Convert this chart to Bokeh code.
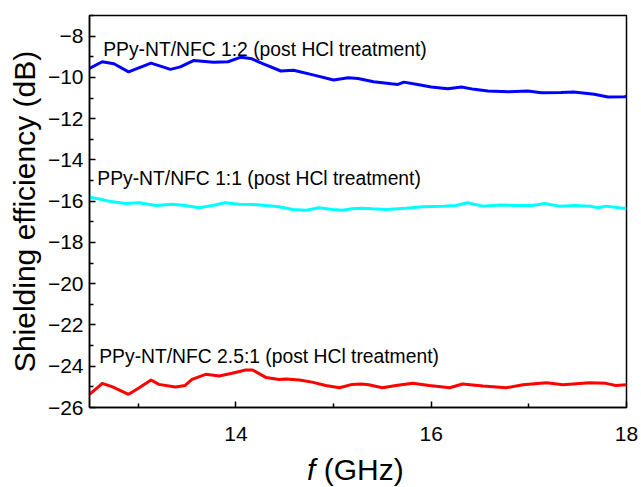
from bokeh.plotting import figure
from bokeh.models import FixedTicker, Label, Div
from bokeh.layouts import column
from bokeh.embed import file_html
from bokeh.resources import INLINE

# ---- data ----
blue_x = [12.5, 12.63, 12.75, 12.90, 13.13, 13.33, 13.43, 13.57, 13.77, 13.92, 14.05, 14.15,
          14.28, 14.46, 14.59, 14.80, 15.00, 15.15, 15.25, 15.41, 15.59, 15.66, 15.72, 15.86,
          16.00, 16.17, 16.31, 16.44, 16.58, 16.79, 16.99, 17.13, 17.33, 17.46, 17.67, 17.81,
          17.98, 18.0]
blue_y = [-9.56, -9.24, -9.34, -9.73, -9.31, -9.61, -9.49, -9.18, -9.27, -9.24, -9.02, -9.08,
          -9.34, -9.69, -9.65, -9.89, -10.13, -10.02, -10.05, -10.21, -10.31, -10.34, -10.23, -10.34,
          -10.47, -10.55, -10.47, -10.58, -10.66, -10.70, -10.66, -10.74, -10.73, -10.71, -10.82, -10.95,
          -10.94, -10.92]

cyan_x = [12.5, 12.60, 12.70, 12.87, 13.01, 13.18, 13.35, 13.48, 13.62, 13.76, 13.89, 14.03,
          14.17, 14.31, 14.44, 14.58, 14.72, 14.85, 14.99, 15.09, 15.19, 15.28, 15.40, 15.54,
          15.74, 15.91, 16.12, 16.25, 16.37, 16.53, 16.70, 16.87, 17.04, 17.16, 17.31, 17.48,
          17.62, 17.71, 17.79, 17.96, 18.0]
cyan_y = [-15.81, -15.89, -16.00, -16.11, -16.08, -16.21, -16.15, -16.21, -16.32, -16.21, -16.08, -16.15,
          -16.16, -16.21, -16.27, -16.40, -16.44, -16.32, -16.40, -16.44, -16.37, -16.34, -16.37, -16.40,
          -16.34, -16.27, -16.24, -16.21, -16.08, -16.24, -16.18, -16.21, -16.21, -16.11, -16.24, -16.21,
          -16.24, -16.32, -16.24, -16.34, -16.34]

red_x = [12.5, 12.60, 12.63, 12.73, 12.90, 13.01, 13.13, 13.21, 13.38, 13.48, 13.55, 13.69,
         13.83, 13.96, 14.10, 14.17, 14.31, 14.44, 14.51, 14.65, 14.78, 14.92, 15.06, 15.19,
         15.28, 15.36, 15.50, 15.64, 15.81, 15.98, 16.19, 16.32, 16.53, 16.77, 16.94, 17.18,
         17.35, 17.62, 17.79, 17.89, 18.0]
red_y = [-25.36, -24.96, -24.83, -24.99, -25.36, -25.04, -24.67, -24.88, -25.01, -24.93, -24.64, -24.39,
         -24.47, -24.34, -24.18, -24.18, -24.55, -24.64, -24.62, -24.67, -24.77, -24.93, -25.04, -24.88,
         -24.86, -24.90, -25.04, -24.93, -24.83, -24.93, -25.04, -24.86, -24.96, -25.04, -24.90, -24.80,
         -24.90, -24.80, -24.83, -24.93, -24.90]

labels = ["PPy-NT/NFC 1:2 (post HCl treatment)",
          "PPy-NT/NFC 1:1 (post HCl treatment)",
          "PPy-NT/NFC 2.5:1 (post HCl treatment)"]
label_x = [12.64, 12.58, 12.60]
label_y = [-8.64, -14.92, -23.55]

x_major = [14, 16, 18]
x_minor = [13, 15, 17]
y_major = [-26, -24, -22, -20, -18, -16, -14, -12, -10, -8]
y_minor = [-25, -23, -21, -19, -17, -15, -13, -11, -9, -7]

x_title_italic = "f"
x_title_rest = "(GHz)"
y_title = "Shielding efficiency (dB)"

FONT = "Liberation Sans"

p = figure(width=641, height=452, x_range=(12.5, 18), y_range=(-26, -7),
           output_backend="svg", toolbar_location=None,
           min_border_left=89, min_border_right=15, min_border_top=15, min_border_bottom=45)

p.background_fill_color = "white"
p.border_fill_color = "white"
p.grid.visible = False
p.outline_line_color = "black"
p.outline_line_width = 1.5

p.line(blue_x, blue_y, line_color="#0000FF", line_width=3)
p.line(cyan_x, cyan_y, line_color="#00FFFF", line_width=3)
p.line(red_x, red_y, line_color="#FF0000", line_width=3)

for t, lx, ly in zip(labels, label_x, label_y):
    p.add_layout(Label(x=lx, y=ly, text=t, text_font=FONT, text_font_size="19.3px",
                       text_color="black", text_baseline="alphabetic", text_align="left"))

for ax in (p.xaxis[0], p.yaxis[0]):
    ax.axis_line_width = 1.5
    ax.axis_line_color = "black"
    ax.major_tick_in = 6
    ax.major_tick_out = 0
    ax.minor_tick_in = 4
    ax.minor_tick_out = 0
    ax.major_tick_line_width = 1.5
    ax.minor_tick_line_width = 1.5
    ax.major_label_text_font = FONT
    ax.major_label_text_font_size = "21px"
    ax.major_label_text_color = "black"

p.xaxis.ticker = FixedTicker(ticks=x_major, minor_ticks=x_minor)
p.yaxis.ticker = FixedTicker(ticks=y_major, minor_ticks=y_minor)
p.xaxis.major_label_standoff = 19
p.yaxis.major_label_standoff = 6

p.yaxis.axis_label = y_title
p.yaxis.axis_label_text_font = FONT
p.yaxis.axis_label_text_font_size = "30px"
p.yaxis.axis_label_text_font_style = "normal"
p.yaxis.axis_label_text_color = "black"
p.yaxis.axis_label_standoff = 4

xtitle = Div(
    text=('<div style="padding-left:307px; padding-top:3px; font-family:\'Liberation Sans\', Arial, sans-serif; '
          'font-size:30px; line-height:30px; color:black; white-space:nowrap;">'
          '<i>%s</i> %s</div>') % (x_title_italic, x_title_rest),
    width=641, height=35, margin=0, styles={"overflow": "hidden"})

layout = column(p, xtitle, spacing=0, margin=0)

open("out.html", "w").write(file_html(layout, INLINE))
